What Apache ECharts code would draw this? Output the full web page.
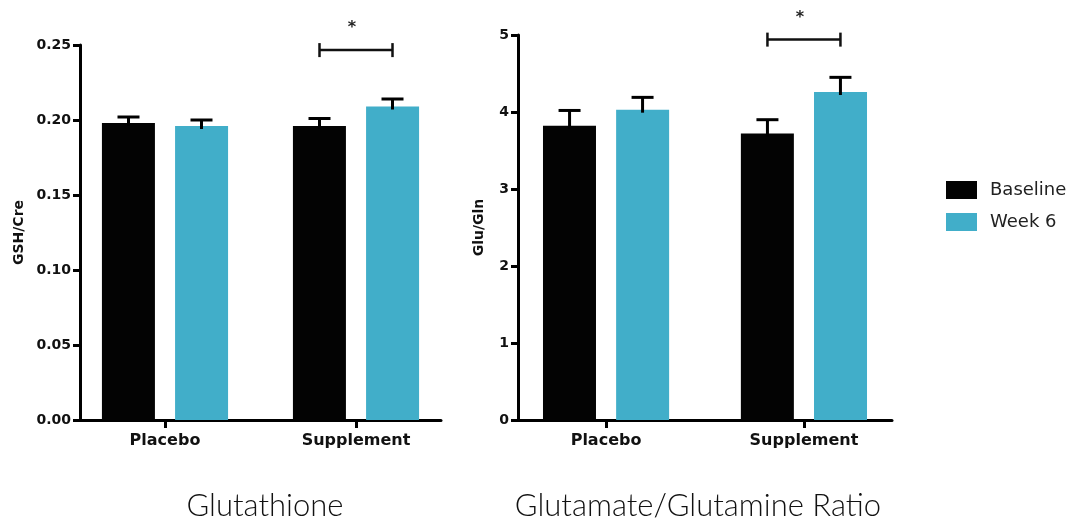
<!DOCTYPE html>
<html>
<head>
<meta charset="utf-8">
<script src="https://cdn.jsdelivr.net/npm/echarts@6/dist/echarts.min.js"></script>
<style>
  html, body { margin: 0; padding: 0; background: #fff; }
  #chart { width: 1069px; height: 527px; }
</style>
</head>
<body>
<div id="chart"></div>
<script>
// categories / legend
const groups = ['Placebo', 'Supplement']
const groupPos = [0, 1]
const seriesNames = ['Baseline', 'Week 6']

// Glutathione (GSH/Cre)
const gshBaseline = [0.198, 0.196]
const gshWeek6 = [0.196, 0.209]
const gshBaselineErr = [0.004, 0.005]
const gshWeek6Err = [0.004, 0.005]
const gshTicks = [0, 0.05, 0.10, 0.15, 0.20, 0.25]

// Glutamate/Glutamine ratio (Glu/Gln)
const gluBaseline = [3.82, 3.72]
const gluWeek6 = [4.03, 4.26]
const gluBaselineErr = [0.2, 0.18]
const gluWeek6Err = [0.16, 0.19]
const gluTicks = [0, 1, 2, 3, 4, 5]

// significance brackets: [category, bracket level, mark]
const gshSig = ['Supplement', 0.2466, '*']
const gluSig = ['Supplement', 4.94, '*']

const panelTitles = ['Glutathione', 'Glutamate/Glutamine Ratio']
const yNames = ['GSH/Cre', 'Glu/Gln']

const black = '#030303'
const teal = '#41AEC9'
const barW = 53
const halfPair = 36.5 // distance from group centre to each bar centre

const chart = echarts.init(document.getElementById('chart'))

const labelFont = { fontFamily: 'DejaVu Sans', fontWeight: 'bold', color: '#111' }

// group axis: groups sit at 0 and 1, with GraphPad-style margins either side
const makeXAxis = (idx) => ({
  type: 'value',
  gridIndex: idx,
  min: -0.445,
  max: 1.445,
  splitLine: { show: false },
  axisLine: { lineStyle: { color: '#000', width: 3 } },
  axisTick: { show: true, customValues: groupPos, length: 8, lineStyle: { width: 3, color: '#000' } },
  axisLabel: { ...labelFont, fontSize: 16, margin: 13, customValues: groupPos, formatter: v => groups[Math.round(v)] }
})

const makeYAxis = (idx, ticks, name, gap, fmt) => ({
  type: 'value',
  gridIndex: idx,
  min: ticks[0],
  max: ticks[ticks.length - 1],
  interval: ticks[1] - ticks[0],
  name: name,
  nameLocation: 'middle',
  nameGap: gap,
  nameTextStyle: { ...labelFont, fontSize: 14 },
  axisLine: { show: true, onZero: false, lineStyle: { color: '#000', width: 3 } },
  axisTick: { show: true, length: 7, lineStyle: { width: 3, color: '#000' } },
  axisLabel: { ...labelFont, fontSize: 14, margin: 9, formatter: fmt },
  splitLine: { show: false }
})

const makeBar = (idx, name, values, color) => ({
  type: 'bar',
  name: name,
  xAxisIndex: idx,
  yAxisIndex: idx,
  data: values.map((v, i) => [groupPos[i], v]),
  barWidth: barW,
  barGap: '38%',
  itemStyle: { color: color },
  z: 2
})

// upper error bar with cap
const makeErr = (idx, values, errs, offset) => ({
  type: 'custom',
  xAxisIndex: idx,
  yAxisIndex: idx,
  data: values.map((v, i) => [groupPos[i], v, v + errs[i]]),
  encode: { x: 0, y: [1, 2] },
  z: 5,
  silent: true,
  renderItem: (params, api) => {
    const base = api.coord([api.value(0), api.value(1)])
    const top = api.coord([api.value(0), api.value(2)])
    const x = base[0] + offset
    return {
      type: 'group',
      children: [
        { type: 'line', shape: { x1: x, y1: base[1] + 3, x2: x, y2: top[1] }, style: { stroke: '#000', lineWidth: 3 } },
        { type: 'line', shape: { x1: x - 11, y1: top[1], x2: x + 11, y2: top[1] }, style: { stroke: '#000', lineWidth: 3 } }
      ]
    }
  }
})

// significance bracket between the two bars of one group
const makeSig = (idx, sig) => ({
  type: 'custom',
  xAxisIndex: idx,
  yAxisIndex: idx,
  data: [[groupPos[groups.indexOf(sig[0])], sig[1]]],
  encode: { x: 0, y: 1 },
  clip: false,
  z: 5,
  silent: true,
  renderItem: (params, api) => {
    const p = api.coord([api.value(0), api.value(1)])
    const x1 = p[0] - halfPair
    const x2 = p[0] + halfPair
    const y = p[1]
    const st = { stroke: '#111', lineWidth: 2.5 }
    return {
      type: 'group',
      children: [
        { type: 'line', shape: { x1: x1, y1: y, x2: x2, y2: y }, style: st },
        { type: 'line', shape: { x1: x1, y1: y - 7, x2: x1, y2: y + 7 }, style: st },
        { type: 'line', shape: { x1: x2, y1: y - 7, x2: x2, y2: y + 7 }, style: st },
        { type: 'text', x: p[0] - 4, y: y - 22, style: { text: sig[2], fill: '#222', font: 'bold 16px DejaVu Sans', textAlign: 'center', textVerticalAlign: 'middle' } }
      ]
    }
  }
})

const option = {
  animation: false,
  backgroundColor: '#fff',
  grid: [
    { left: 80, top: 45, width: 361, bottom: 107 },
    { left: 518, top: 35, width: 374, bottom: 107 }
  ],
  xAxis: [makeXAxis(0), makeXAxis(1)],
  yAxis: [
    makeYAxis(0, gshTicks, yNames[0], 54, v => v.toFixed(2)),
    makeYAxis(1, gluTicks, yNames[1], 32, v => String(v))
  ],
  legend: {
    data: seriesNames,
    orient: 'vertical',
    left: 941,
    top: 176,
    itemWidth: 31,
    itemHeight: 18,
    itemGap: 14,
    icon: 'rect',
    textStyle: { fontFamily: 'DejaVu Sans', fontSize: 18, color: '#222', padding: [0, 0, 0, 8] }
  },
  graphic: [
    { type: 'text', x: 265, y: 506, style: { text: panelTitles[0], font: '300 31px Lato', fill: '#111', textAlign: 'center', textVerticalAlign: 'middle' } },
    { type: 'text', x: 698, y: 506, style: { text: panelTitles[1], font: '300 31px Lato', fill: '#111', textAlign: 'center', textVerticalAlign: 'middle' } }
  ],
  series: [
    makeBar(0, seriesNames[0], gshBaseline, black),
    makeBar(0, seriesNames[1], gshWeek6, teal),
    makeBar(1, seriesNames[0], gluBaseline, black),
    makeBar(1, seriesNames[1], gluWeek6, teal),
    makeErr(0, gshBaseline, gshBaselineErr, -halfPair),
    makeErr(0, gshWeek6, gshWeek6Err, halfPair),
    makeErr(1, gluBaseline, gluBaselineErr, -halfPair),
    makeErr(1, gluWeek6, gluWeek6Err, halfPair),
    makeSig(0, gshSig),
    makeSig(1, gluSig)
  ]
}

chart.setOption(option)
</script>
</body>
</html>
